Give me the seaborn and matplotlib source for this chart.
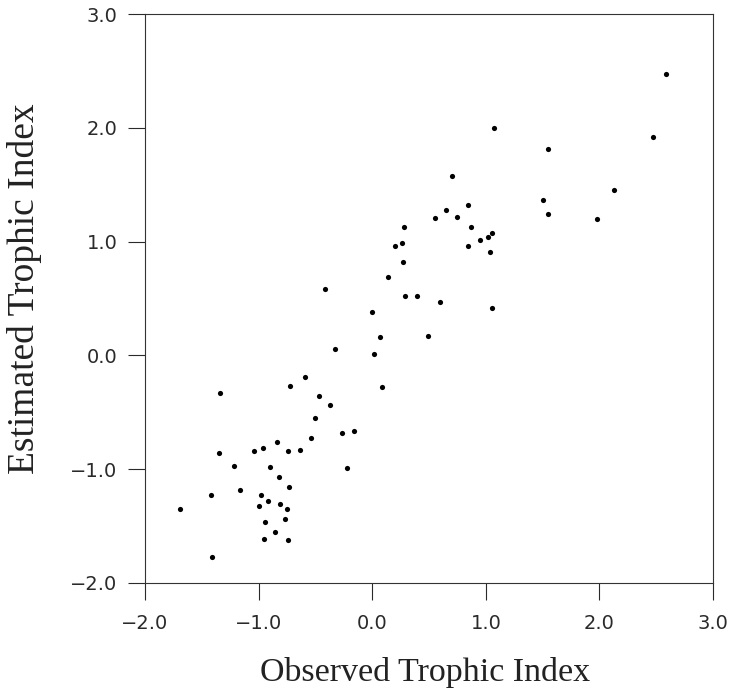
import matplotlib
matplotlib.use("Agg")
import matplotlib.pyplot as plt
import pandas as pd
import seaborn as sns

# observed vs estimated trophic index
observed = [
    0.07, 0.49, -0.33, 0.02, -1.34, 0.09, -0.59, -0.72, -0.47, -0.37,
    -0.50, -0.54, -0.27, -0.16, -0.22, -0.84, -1.04, -0.96, -0.74, -0.64,
    -1.35, -1.22, -0.90, -0.82, -0.73, -1.16, -1.42, -0.98, -0.92, -1.00,
    -0.81, -0.75, -1.69, -0.77, -0.94, -0.86, -0.95, -0.74, -1.41,
    1.07, 2.47, 1.55, 0.70, 2.13, 1.50, 0.84, 0.65, 0.55, 0.75,
    1.55, 1.98, 0.28, 0.87, 1.05, 1.02, 0.95, 0.26, 0.20, 0.84,
    1.04, 0.27, 0.14, -0.42, 0.29, 0.39, 0.60, 1.05, 0.00, 2.59,
]
estimated = [
    0.16, 0.17, 0.06, 0.01, -0.33, -0.28, -0.19, -0.27, -0.36, -0.44,
    -0.55, -0.73, -0.68, -0.66, -0.99, -0.76, -0.84, -0.81, -0.84, -0.83,
    -0.86, -0.97, -0.98, -1.07, -1.16, -1.18, -1.23, -1.23, -1.28, -1.32,
    -1.31, -1.35, -1.35, -1.44, -1.46, -1.55, -1.61, -1.62, -1.77,
    2.00, 1.92, 1.81, 1.58, 1.45, 1.37, 1.32, 1.28, 1.21, 1.22,
    1.24, 1.20, 1.13, 1.13, 1.08, 1.04, 1.01, 0.99, 0.96, 0.96,
    0.91, 0.82, 0.69, 0.58, 0.52, 0.52, 0.47, 0.42, 0.38, 2.47,
]
ticks = [-2.0, -1.0, 0.0, 1.0, 2.0, 3.0]
tick_labels = ["\u22122.0", "\u22121.0", "0.0", "1.0", "2.0", "3.0"]

df = pd.DataFrame({"obs": observed, "est": estimated})

sns.set_style("ticks")
plt.rcParams["font.family"] = ["DejaVu Sans"]

fig = plt.figure(figsize=(7.31, 6.91), dpi=100)
ax = fig.add_axes([0.1984, 0.1563, 0.777, 0.8234])

sns.scatterplot(data=df, x="obs", y="est", ax=ax, color="black",
                s=14, linewidth=0, legend=False)

ax.set_xlim(-2.0, 3.0)
ax.set_ylim(-2.0, 3.0)
ax.set_xticks(ticks)
ax.set_yticks(ticks)
ax.set_xticklabels(tick_labels)
ax.set_yticklabels(tick_labels)
ax.tick_params(axis="both", direction="out", length=12, width=0.8,
               labelsize=14, colors="#2a2a2a")
ax.tick_params(axis="y", pad=8)
ax.tick_params(axis="x", pad=10)

for side in ["top", "right", "bottom", "left"]:
    ax.spines[side].set_visible(True)
    ax.spines[side].set_linewidth(0.8)
    ax.spines[side].set_color("#333333")

ax.set_xlabel("Observed Trophic Index", family="Liberation Serif",
              fontsize=24.5, color="#222222")
ax.set_ylabel("Estimated Trophic Index", family="Liberation Serif",
              fontsize=27, color="#222222")
ax.xaxis.set_label_coords(0.493, -0.13)
ax.yaxis.set_label_coords(-0.182, 0.518)

fig.savefig("out.png", dpi=100)
